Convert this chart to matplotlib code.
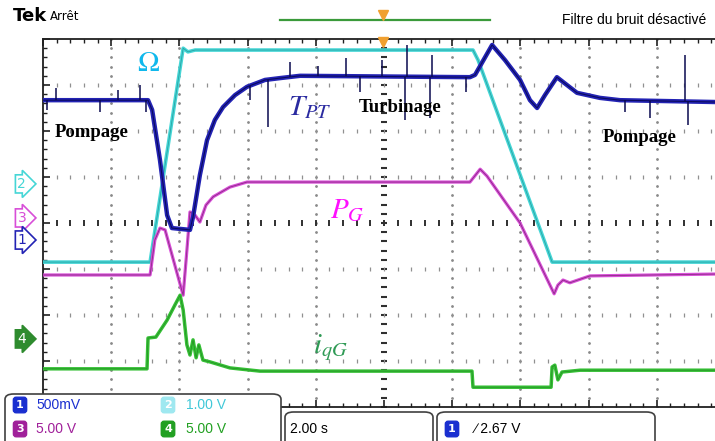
import numpy as np
import matplotlib
matplotlib.use("Agg")
import matplotlib.pyplot as plt
from matplotlib.patches import FancyBboxPatch
from matplotlib.ticker import MultipleLocator

plt.rcParams['mathtext.fontset'] = 'stix'

# time in seconds (2.00 s/div), levels in graticule divisions
t_blue = [0, 3.08, 3.20, 3.43, 3.64, 3.78, 4.31, 4.40, 4.60, 4.81, 5.04, 5.28, 5.63, 5.98,
          6.51, 6.95, 7.54, 12.52, 12.67, 13.17, 13.55, 13.99, 14.28, 14.49, 14.72, 15.07,
          15.66, 16.33, 16.92, 19.71]
y_blue = [2.67, 2.67, 2.46, 1.37, 0.17, -0.11, -0.15, 0.13, 1.04, 1.80, 2.24, 2.52, 2.78, 2.96,
          3.11, 3.15, 3.20, 3.17, 3.22, 3.87, 3.54, 3.11, 2.67, 2.50, 2.78, 3.17,
          2.83, 2.72, 2.67, 2.63]

# noise spikes on the torque trace: time, tip level
spike_t = [0.12, 0.38, 1.67, 2.20, 2.84, 3.02, 6.07, 6.60, 7.24, 8.06, 8.89, 9.30, 9.94,
           10.62, 10.67, 11.35, 11.41, 12.40, 17.07, 17.80, 18.83, 18.92]
spike_y = [2.46, 2.93, 2.41, 2.89, 3.00, 2.41, 2.67, 2.09, 3.50, 3.41, 3.59, 2.85, 3.54,
           2.24, 3.87, 2.28, 3.65, 2.85, 2.41, 2.28, 3.65, 2.13]

t_cyan = [0, 3.14, 4.11, 4.25, 4.46, 12.61, 12.76, 14.93, 19.71]
y_cyan = [-0.85, -0.85, 3.80, 3.72, 3.76, 3.76, 3.54, -0.85, -0.85]

t_mag = [0, 3.14, 3.28, 3.43, 3.58, 4.11, 4.22, 4.31, 4.46, 4.60, 4.78, 4.99, 5.48, 5.98,
         12.52, 12.82, 13.02, 13.99, 14.99, 15.10, 15.25, 15.45, 16.04, 19.71]
y_mag = [-1.13, -1.13, -0.37, -0.11, -0.15, -1.57, -0.59, 0.24, 0.17, 0.02, 0.39, 0.57, 0.78, 0.89,
         0.89, 1.17, 1.02, 0.00, -1.54, -1.35, -1.24, -1.30, -1.15, -1.11]

t_green = [0, 3.05, 3.08, 3.31, 3.64, 3.87, 4.02, 4.11, 4.22, 4.31, 4.40, 4.49, 4.57, 4.69,
           4.90, 5.48, 6.36, 12.58, 12.61, 14.90, 14.93, 15.01, 15.10, 15.22, 15.75, 19.71]
y_green = [-3.17, -3.17, -2.50, -2.48, -2.11, -1.78, -1.57, -1.89, -2.65, -2.87, -2.54, -2.93, -2.65, -2.98,
           -3.02, -3.15, -3.22, -3.22, -3.57, -3.57, -3.13, -3.09, -3.41, -3.24, -3.20, -3.20]

# channel reference tags
tag_names = ['2', '3', '1', '4']
tag_levels = [0.85, 0.11, -0.37, -2.52]

BLUE = '#2323b4'
CYAN = '#45d6d6'
MAG = '#d84ed8'
GREEN = '#35c035'

W, H = 715, 441


def fx(px):
    return px / W


def fy(py):
    return 1 - py / H


fig = plt.figure(figsize=(7.15, 4.41), dpi=100)
ax = fig.add_axes([fx(43), fy(407), 682 / W, 368 / H])
ax.set_xlim(0, 20)
ax.set_ylim(-4, 4)

# graticule
for xv in np.arange(2, 20, 2):
    ys = np.arange(-4, 4.01, 0.2)
    if xv == 10:
        ax.plot([xv] * len(ys), ys, ls='none', marker='_', ms=4.5, mew=1.5, color='#303030', zorder=1)
    else:
        ax.plot([xv] * len(ys), ys, ls='none', marker='.', ms=2, color='#8a8a8a', zorder=1)
for yv in range(-3, 4):
    xs = np.arange(0, 20.01, 0.4)
    if yv == 0:
        ax.plot(xs, [yv] * len(xs), ls='none', marker='|', ms=4.5, mew=1.4, color='#303030', zorder=1)
    else:
        ax.plot(xs, [yv] * len(xs), ls='none', marker='|', ms=2.5, mew=0.9, color='#909090', zorder=1)

for s in ['left', 'top', 'bottom']:
    ax.spines[s].set_linewidth(1.3)
    ax.spines[s].set_color('#202020')
ax.spines['right'].set_visible(False)
ax.xaxis.set_major_locator(MultipleLocator(2))
ax.xaxis.set_minor_locator(MultipleLocator(0.4))
ax.yaxis.set_major_locator(MultipleLocator(1))
ax.yaxis.set_minor_locator(MultipleLocator(0.2))
ax.xaxis.set_ticks_position('both')
ax.tick_params(which='both', direction='in', labelbottom=False, labelleft=False, color='#202020')
ax.tick_params(which='major', length=5, width=1.2)
ax.tick_params(which='minor', length=3, width=1)

# traces
ax.plot(t_cyan, y_cyan, color=CYAN, lw=2.6, zorder=3)
ax.plot(t_cyan, y_cyan, color='#1f8f8f', lw=0.6, alpha=0.7, zorder=3)
ax.plot(t_mag, y_mag, color=MAG, lw=2.3, zorder=4)
ax.plot(t_mag, y_mag, color='#6a2060', lw=0.6, alpha=0.7, zorder=4)
ax.plot(t_green, y_green, color=GREEN, lw=2.5, zorder=4)
ax.plot(t_green, y_green, color='#1b6b1b', lw=0.5, alpha=0.6, zorder=4)
ax.plot(t_blue, y_blue, color=BLUE, lw=3.2, zorder=5)
ax.plot(t_blue, y_blue, color='#00003a', lw=0.8, alpha=0.7, zorder=5)
base = np.interp(spike_t, t_blue, y_blue)
ax.vlines(spike_t, base, spike_y, color='#0a0a50', lw=1.1, zorder=5)

# annotations
ax.text(3.08, 3.48, r'$\Omega$', color='#10b8ec', fontsize=21, ha='center', va='center', zorder=6)
ax.text(7.83, 2.52, r'$T_{PT}$', color='#2a2aa0', fontsize=21, ha='center', va='center', zorder=6)
ax.text(10.47, 2.52, 'Turbinage', family='Liberation Serif', weight='bold', fontsize=13.5,
        ha='center', va='center', zorder=6)
ax.text(1.44, 1.96, 'Pompage', family='Liberation Serif', weight='bold', fontsize=13.5,
        ha='center', va='center', zorder=6)
ax.text(17.51, 1.85, 'Pompage', family='Liberation Serif', weight='bold', fontsize=13.5,
        ha='center', va='center', zorder=6)
ax.text(8.92, 0.28, r'$P_G$', color='#ff10ff', fontsize=21, ha='center', va='center', zorder=6)
ax.text(8.42, -2.70, r'$i_{qG}$', color='#2f9a55', fontsize=21, ha='center', va='center', zorder=6)

tag_colors = [CYAN, MAG, BLUE, '#2e8b2e']
for name, lev, c in zip(tag_names, tag_levels, tag_colors):
    filled = name == '4'
    ax.text(-0.62, lev, name, color='white' if filled else c, fontsize=10, ha='center', va='center',
            clip_on=False, zorder=7,
            bbox=dict(boxstyle='rarrow,pad=0.15', fc=c if filled else 'white', ec=c, lw=1.2))

# header
fig.text(fx(13), fy(16), 'Tek', fontsize=13, weight='bold', family='DejaVu Sans', va='center')
fig.text(fx(50), fy(16), 'Arrêt', fontsize=8.5, va='center')
narrow = ['Liberation Sans', 'DejaVu Sans']
fig.text(fx(706), fy(20), 'Filtre du bruit désactivé', fontsize=10, ha='right', va='center',
         family=narrow)
fig.add_artist(plt.Line2D([fx(280), fx(490)], [fy(20), fy(20)], color='#3a9a3a', lw=1.6))
fig.add_artist(plt.Line2D([fx(383)], [fy(15)], marker='v', ms=7, color='#f0a030', ls='none'))
fig.add_artist(plt.Line2D([fx(383)], [fy(42)], marker='v', ms=7, color='#f0a030', ls='none', zorder=8))

# bottom info boxes
def box(x0, y0, x1, y1):
    p = FancyBboxPatch((fx(x0), fy(y1)), fx(x1) - fx(x0), fy(y0) - fy(y1),
                       boxstyle='round,pad=0,rounding_size=0.012', transform=fig.transFigure,
                       fc='white', ec='#404040', lw=1.2, zorder=10)
    fig.add_artist(p)

box(5, 394, 281, 450)
box(285, 412, 433, 450)
box(437, 412, 655, 450)

icons = [(20, 405, '1', '#1a2fd0', 36, '500mV'),
         (168, 405, '2', '#9fe8f0', 186, '1.00 V'),
         (20, 429, '3', '#a0209a', 36, '5.00 V'),
         (168, 429, '4', '#22a022', 186, '5.00 V')]
text_cols = ['#1a2fd0', '#40c8d8', '#a0209a', '#22a022']
for (ix, iy, n, c, tx, lab), tc in zip(icons, text_cols):
    fig.text(fx(ix), fy(iy), n, color='white', fontsize=8, weight='bold', ha='center', va='center',
             zorder=11, bbox=dict(boxstyle='round,pad=0.25', fc=c, ec=c))
    fig.text(fx(tx), fy(iy), lab, color=tc, fontsize=10, family=narrow, va='center', zorder=11)

fig.text(fx(290), fy(429), '2.00 s', fontsize=10, family=narrow, va='center', zorder=11)
fig.text(fx(452), fy(429), '1', color='white', fontsize=8, weight='bold', ha='center', va='center',
         zorder=11, bbox=dict(boxstyle='round,pad=0.25', fc='#1a2fd0', ec='#1a2fd0'))
fig.text(fx(475), fy(429), '\u2215 2.67 V', fontsize=10, family=narrow, va='center', zorder=11)

fig.savefig('out.png', dpi=100)
